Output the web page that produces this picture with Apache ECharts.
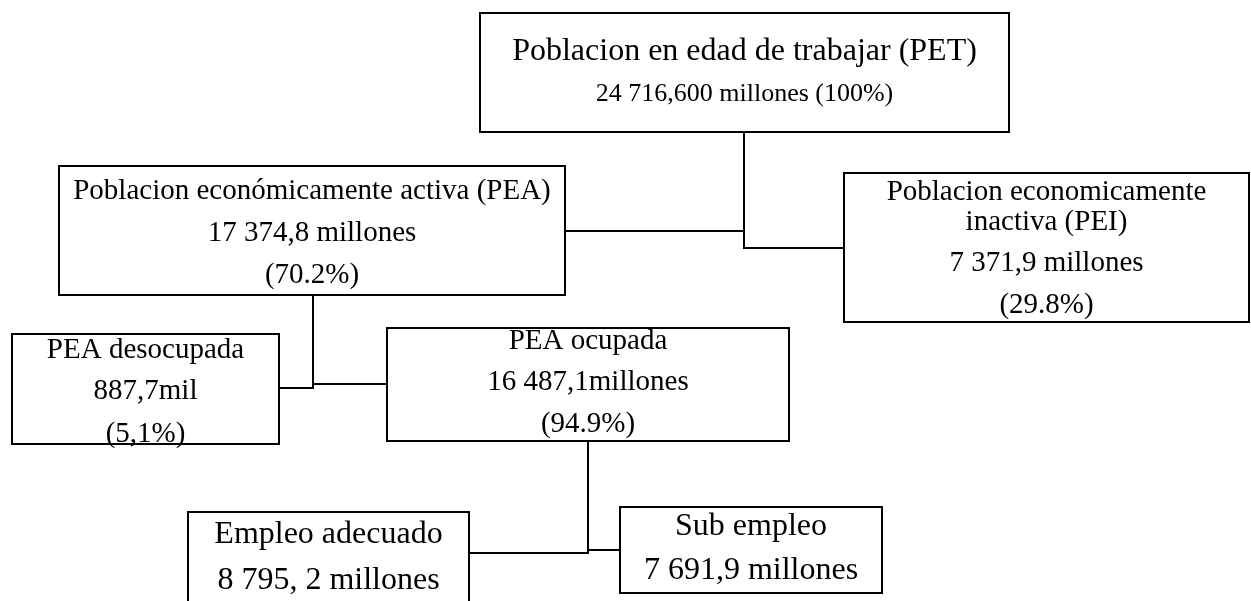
<!DOCTYPE html>
<html>
<head>
<meta charset="utf-8">
<script src="https://cdn.jsdelivr.net/npm/echarts@6/dist/echarts.min.js"></script>
<style>
  html, body { margin: 0; padding: 0; background: #fff; }
  #main { width: 1251px; height: 601px; }
</style>
</head>
<body>
<div id="main"></div>
<script>
// texto de cada caja
var boxLines = [
  ['Poblacion en edad de trabajar (PET)', '24 716,600 millones (100%)'],
  ['Poblacion económicamente activa (PEA)', '17 374,8 millones', '(70.2%)'],
  ['Poblacion economicamente', 'inactiva (PEI)', '7 371,9 millones', '(29.8%)'],
  ['PEA desocupada', '887,7mil', '(5,1%)'],
  ['PEA ocupada', '16 487,1millones', '(94.9%)'],
  ['Empleo adecuado', '8 795, 2 millones'],
  ['Sub empleo', '7 691,9 millones']
];

// cajas en unidades del diagrama [x0, y0, x1, y1]
var boxRects = [
  [480, 13, 1009, 132],
  [59, 166, 565, 295],
  [844, 173, 1249, 322],
  [12, 334, 279, 444],
  [387, 328, 789, 441],
  [188, 512, 469, 640],
  [620, 507, 882, 593]
];

// centro vertical de cada linea de texto
var lineY = [
  [52, 94],
  [191, 233, 275],
  [192, 222, 263, 305],
  [350, 391, 434],
  [341, 382, 424],
  [535, 581],
  [527, 571]
];

var fontSizes = [
  [32, 26],
  [29, 29, 29],
  [29, 29, 29, 29],
  [29, 29, 29],
  [29, 29, 29],
  [32, 32],
  [32, 32]
];

// conectores
var connectors = [
  [[744, 132], [744, 231], [565, 231]],
  [[744, 231], [744, 248], [844, 248]],
  [[313, 295], [313, 388], [279, 388]],
  [[313, 384], [387, 384]],
  [[588, 441], [588, 553], [469, 553]],
  [[588, 550], [620, 550]]
];

var myChart = echarts.init(document.getElementById('main'));

function renderBox(params, api) {
  var i = params.dataIndex;
  var p0 = api.coord([api.value(0), api.value(1)]);
  var p1 = api.coord([api.value(2), api.value(3)]);
  var cx = (p0[0] + p1[0]) / 2;
  var children = [{
    type: 'rect',
    shape: { x: p0[0], y: p0[1], width: p1[0] - p0[0], height: p1[1] - p0[1] },
    style: { fill: '#fff', stroke: '#000', lineWidth: 2 }
  }];
  for (var k = 0; k < boxLines[i].length; k++) {
    var ty = api.coord([0, lineY[i][k]])[1];
    children.push({
      type: 'text',
      z2: 10,
      style: {
        text: boxLines[i][k],
        x: cx,
        y: ty,
        align: 'center',
        verticalAlign: 'middle',
        fill: '#000',
        font: fontSizes[i][k] + 'px "Liberation Serif", "Times New Roman", serif'
      }
    });
  }
  return { type: 'group', children: children };
}

var option = {
  animation: false,
  backgroundColor: '#fff',
  grid: { left: 0, right: 0, top: 0, bottom: 0 },
  xAxis: { type: 'value', min: 0, max: 1251, show: false },
  yAxis: { type: 'value', min: 0, max: 601, inverse: true, show: false },
  series: [
    {
      type: 'lines',
      coordinateSystem: 'cartesian2d',
      polyline: true,
      silent: true,
      lineStyle: { color: '#000', width: 2, opacity: 1 },
      data: connectors.map(function (c) { return { coords: c }; }),
      z: 1
    },
    {
      type: 'custom',
      renderItem: renderBox,
      clip: false,
      silent: true,
      data: boxRects,
      z: 2
    }
  ]
};

myChart.setOption(option);
</script>
</body>
</html>
